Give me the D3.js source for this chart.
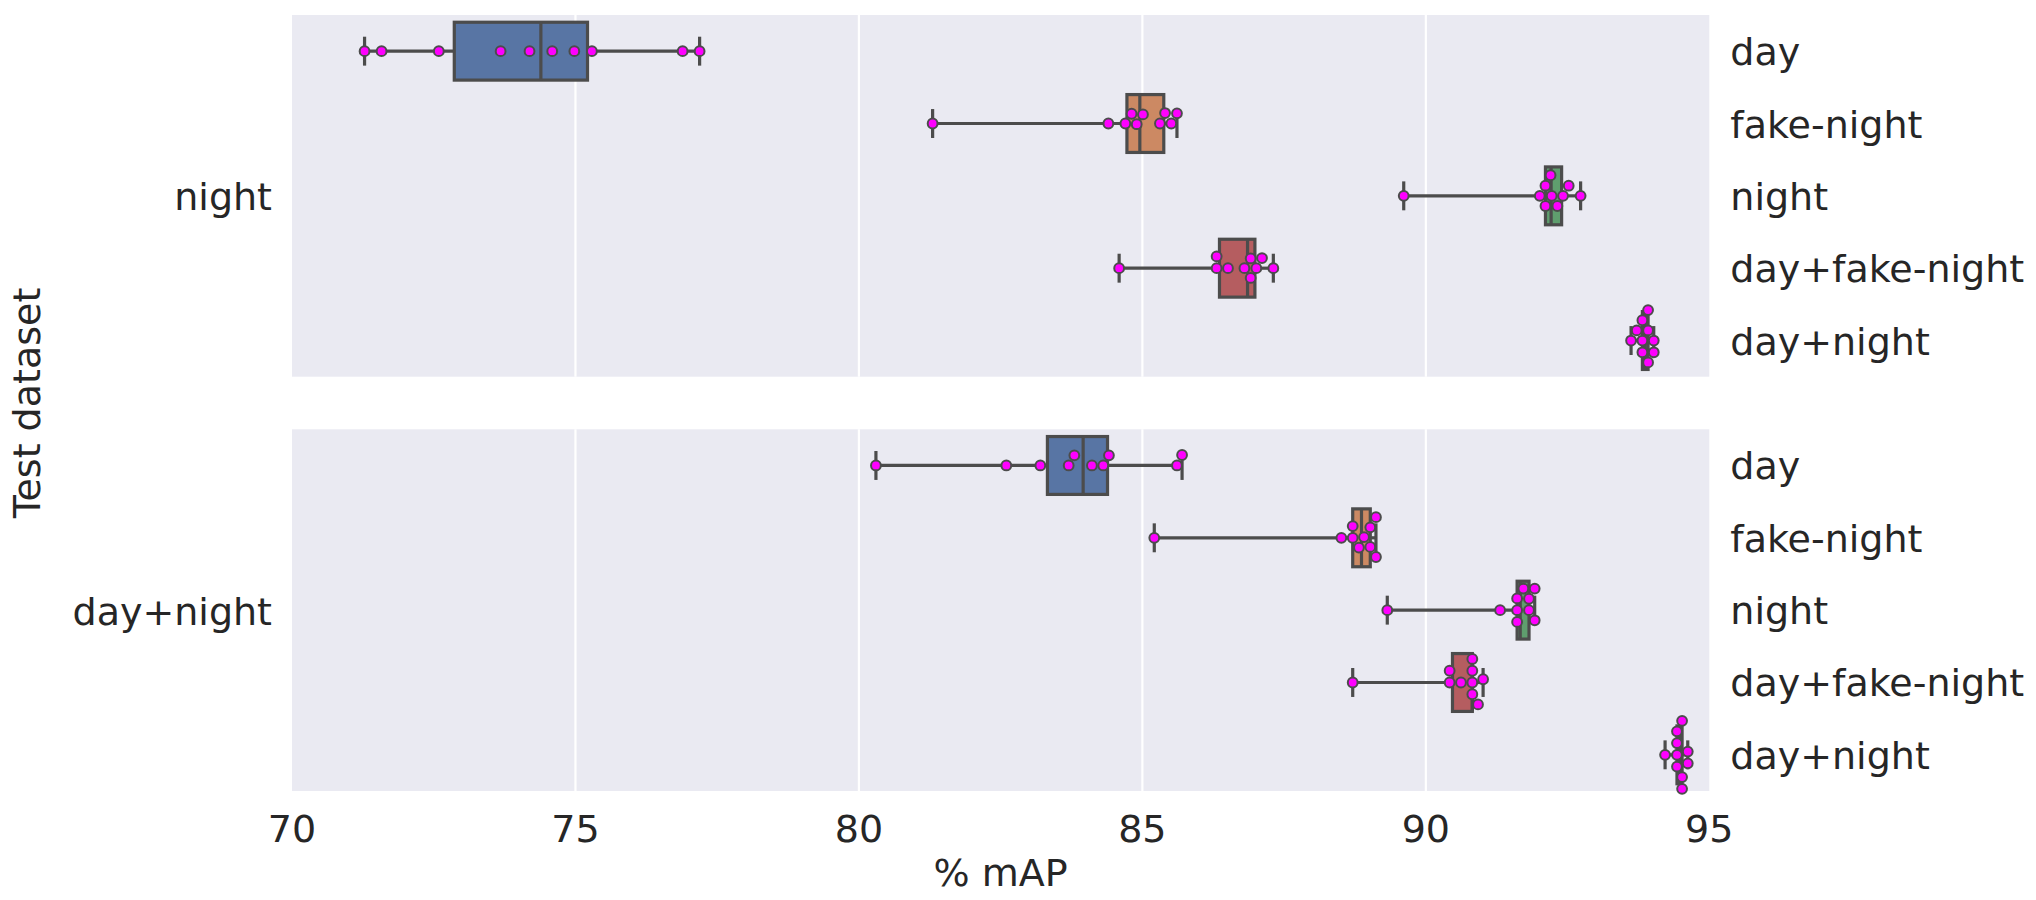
<!DOCTYPE html>
<html>
<head>
<meta charset="utf-8">
<script src="https://cdn.jsdelivr.net/npm/d3@7"></script>
<style>
  html, body { margin: 0; padding: 0; background: #ffffff; }
  svg { display: block; }
  text { font-family: "DejaVu Sans", sans-serif; fill: #262626; }
</style>
</head>
<body>
<svg id="chart" width="2036" height="900"></svg>
<script>
// ---------- data ----------
const testSets = ["night", "day+night"];
const trainSets = ["day", "fake-night", "night", "day+fake-night", "day+night"];
const xTicks = [70, 75, 80, 85, 90, 95];
const boxColors = ["#5875a4", "#cc8963", "#5f9e6e", "#b55d60", "#857aab"];

// % mAP per run, test set = night (one array per training set, same order as trainSets)
const nightDay          = [71.28, 71.58, 72.59, 73.68, 74.19, 74.59, 74.98, 75.29, 76.89, 77.19];
const nightFakeNight    = [81.30, 84.40, 84.70, 84.81, 84.90, 85.01, 85.31, 85.40, 85.51, 85.61];
const nightNight        = [89.61, 92.01, 92.11, 92.11, 92.20, 92.22, 92.32, 92.42, 92.52, 92.73];
const nightDayFakeNight = [84.59, 86.31, 86.31, 86.51, 86.80, 86.91, 86.91, 87.01, 87.11, 87.31];
const nightDayNight     = [93.62, 93.72, 93.82, 93.82, 93.82, 93.92, 93.92, 93.92, 94.02, 94.02];

// % mAP per run, test set = day+night
const dnDay          = [80.30, 82.60, 83.20, 83.70, 83.80, 84.11, 84.31, 84.41, 85.61, 85.70];
const dnFakeNight    = [85.21, 88.51, 88.71, 88.71, 88.82, 88.91, 89.02, 89.02, 89.12, 89.12];
const dnNight        = [89.32, 91.31, 91.61, 91.61, 91.61, 91.72, 91.82, 91.82, 91.92, 91.92];
const dnDayFakeNight = [88.71, 90.42, 90.42, 90.62, 90.82, 90.82, 90.82, 90.82, 90.92, 91.01];
const dnDayNight     = [94.22, 94.43, 94.43, 94.43, 94.43, 94.52, 94.52, 94.52, 94.62, 94.62];

const panelData = [
  [nightDay, nightFakeNight, nightNight, nightDayFakeNight, nightDayNight],
  [dnDay, dnFakeNight, dnNight, dnDayFakeNight, dnDayNight]
];

// ---------- layout ----------
const svg = d3.select("#chart");
const left = 292, right = 1709.3;
const panels = [{top: 15, bottom: 376.7}, {top: 429.3, bottom: 791}];
const lineColor = "#4c4c4c";
const fontSize = 38;

const x = d3.scaleLinear().domain([70, 95]).range([left, right]);

// beeswarm (seaborn-like) in pixel space; returns offsets (negative = up)
function beeswarm(pxVals, R) {
  const order = pxVals.map((v, i) => i).sort((a, b) => pxVals[a] - pxVals[b]);
  const placed = [];
  const d = 2 * R;
  for (const idx of order) {
    const px = pxVals[idx];
    const neigh = [];
    for (let k = placed.length - 1; k >= 0; k--) {
      if (px - placed[k].x < d) neigh.push(placed[k]); else break;
    }
    neigh.reverse();
    let cands = [0];
    let leftFirst = true;
    for (const q of neigh) {
      const dy = px - q.x;
      const dx = Math.sqrt(Math.max(d * d - dy * dy, 0)) * 1.05;
      const cl = q.o - dx, cr = q.o + dx;
      if (leftFirst) cands.push(cl, cr); else cands.push(cr, cl);
      leftFirst = !leftFirst;
    }
    cands = cands.map((c, i) => ({c, i})).sort((a, b) => (Math.abs(a.c) - Math.abs(b.c)) || (a.i - b.i)).map(o => o.c);
    let chosen = cands[0];
    if (neigh.length) {
      for (const c of cands) {
        const ok = neigh.every(q => (px - q.x) ** 2 + (c - q.o) ** 2 >= d * d - 1e-9);
        if (ok) { chosen = c; break; }
      }
    }
    placed.push({x: px, o: chosen, idx});
  }
  return placed;
}

panels.forEach((p, pi) => {
  const g = svg.append("g");
  const y = d3.scaleBand().domain(trainSets).range([p.top, p.bottom]).paddingInner(0).paddingOuter(0);

  // background
  g.append("rect").attr("x", left).attr("y", p.top)
    .attr("width", right - left).attr("height", p.bottom - p.top).attr("fill", "#eaeaf2");

  // gridlines
  g.selectAll("line.grid").data(xTicks.filter(t => t > 70 && t < 95)).enter().append("line")
    .attr("x1", d => x(d)).attr("x2", d => x(d)).attr("y1", p.top).attr("y2", p.bottom)
    .attr("stroke", "#ffffff").attr("stroke-width", 2.2);

  // right-side category labels
  g.selectAll("text.cat").data(trainSets).enter().append("text")
    .attr("x", right + 21).attr("y", d => y(d) + y.bandwidth() / 2 + 14)
    .attr("font-size", fontSize).text(d => d);

  // facet label (test set)
  g.append("text").attr("x", left - 20).attr("y", (p.top + p.bottom) / 2 + 14.5)
    .attr("text-anchor", "end").attr("font-size", fontSize).text(testSets[pi]);

  const boxH = y.bandwidth() * 0.8;
  panelData[pi].forEach((vals, ci) => {
    const cat = trainSets[ci];
    const cy = y(cat) + y.bandwidth() / 2;
    const s = vals.slice().sort(d3.ascending);
    const q1 = d3.quantile(s, 0.25), med = d3.quantile(s, 0.5), q3 = d3.quantile(s, 0.75);
    const lo = d3.min(s), hi = d3.max(s);
    const bg = g.append("g");
    // whiskers
    bg.append("line").attr("x1", x(lo)).attr("x2", x(q1)).attr("y1", cy).attr("y2", cy)
      .attr("stroke", lineColor).attr("stroke-width", 3.2);
    bg.append("line").attr("x1", x(q3)).attr("x2", x(hi)).attr("y1", cy).attr("y2", cy)
      .attr("stroke", lineColor).attr("stroke-width", 3.2);
    // caps
    [lo, hi].forEach(v => {
      bg.append("line").attr("x1", x(v)).attr("x2", x(v))
        .attr("y1", cy - boxH / 4).attr("y2", cy + boxH / 4)
        .attr("stroke", lineColor).attr("stroke-width", 3.2);
    });
    // box
    bg.append("rect").attr("x", x(q1)).attr("y", cy - boxH / 2)
      .attr("width", Math.max(x(q3) - x(q1), 0.5)).attr("height", boxH)
      .attr("fill", boxColors[ci]).attr("stroke", lineColor).attr("stroke-width", 3.2);
    // median
    bg.append("line").attr("x1", x(med)).attr("x2", x(med))
      .attr("y1", cy - boxH / 2).attr("y2", cy + boxH / 2)
      .attr("stroke", lineColor).attr("stroke-width", 3.2);

    // swarm points
    const sw = beeswarm(vals.map(v => x(v)), 5.6);
    bg.selectAll("circle").data(sw).enter().append("circle")
      .attr("cx", d => d.x).attr("cy", d => cy + d.o).attr("r", 4.9)
      .attr("fill", "#ff00ff").attr("stroke", lineColor).attr("stroke-width", 2);
  });
});

// x axis tick labels (bottom panel)
svg.selectAll("text.xtick").data(xTicks).enter().append("text")
  .attr("x", d => x(d)).attr("y", 841.5).attr("text-anchor", "middle")
  .attr("font-size", fontSize).text(d => d3.format("d")(d));

// axis titles
svg.append("text").attr("x", (left + right) / 2).attr("y", 886).attr("text-anchor", "middle")
  .attr("font-size", fontSize).text("% mAP");
svg.append("text").attr("transform", `translate(40, ${(panels[0].top + panels[1].bottom) / 2}) rotate(-90)`)
  .attr("text-anchor", "middle").attr("font-size", fontSize).text("Test dataset");
</script>
</body>
</html>
